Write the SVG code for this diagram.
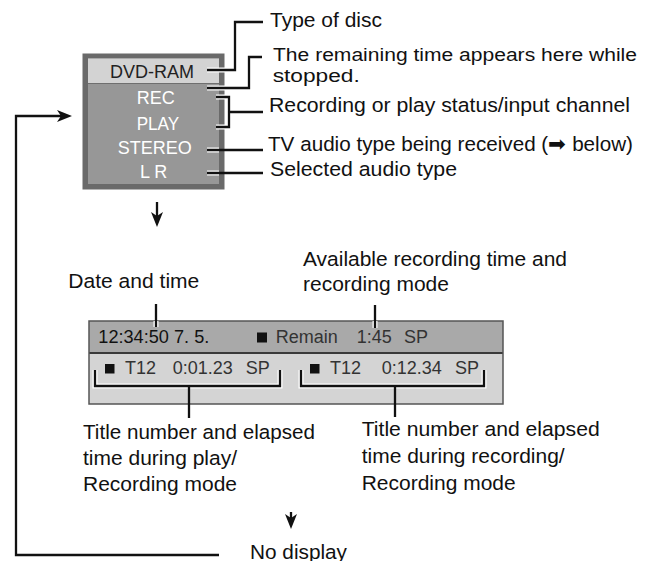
<svg xmlns="http://www.w3.org/2000/svg" width="662" height="561" viewBox="0 0 662 561">
<style>
text{font-family:"Liberation Sans",Arial,Helvetica,sans-serif}
.lbl{font-size:20.5px;fill:#111}
.sm{font-size:17.5px}
.disp{font-size:18px}
.wt{fill:#fff}
.dk{fill:#222}
.halo{fill:none;stroke:#fff;stroke-width:5}
.ln{fill:none;stroke:#111;stroke-width:2.3}
</style>
<defs>
<marker id="ah" viewBox="-6 -7 17 14" markerWidth="17" markerHeight="14" refX="0" refY="0" orient="auto" markerUnits="userSpaceOnUse">
<path d="M10,0 L-5,-6 L-1,0 L-5,6 Z" fill="#111"/>
</marker>
</defs>
<rect width="662" height="561" fill="#fff"/>

<g id="disc-panel">
<rect x="82.5" y="53.5" width="142" height="136" fill="#6a6a6a"/>
<rect x="88" y="58.5" width="131" height="125.5" fill="#979797"/>
<rect x="88" y="58.5" width="131" height="24.5" fill="#d3d3d3"/>
<line x1="88" y1="83.5" x2="219" y2="83.5" stroke="#6f6f6f" stroke-width="1.2"/>
<text class="disp dk" x="110" y="77.7" textLength="84" lengthAdjust="spacingAndGlyphs">DVD-RAM</text>
<text class="disp wt" x="136.7" y="104.3">REC</text>
<text class="disp wt" x="136.7" y="130" textLength="42.5" lengthAdjust="spacingAndGlyphs">PLAY</text>
<text class="disp wt" x="117.7" y="154.3">STEREO</text>
<text class="disp wt" x="140" y="177.7">L R</text>
</g>

<g id="status-bar">
<rect x="89" y="321" width="414" height="83" fill="#d4d4d4"/>
<rect x="89" y="321" width="414" height="32" fill="#a9a9a9"/>
<line x1="89" y1="353" x2="503" y2="353" stroke="#3a3a3a" stroke-width="2"/>
<rect x="89" y="321" width="414" height="83" fill="none" stroke="#555" stroke-width="1.5"/>
<text class="disp" x="98.3" y="343.3" fill="#111" textLength="111" lengthAdjust="spacingAndGlyphs">12:34:50 7. 5.</text>
<rect x="257" y="332.5" width="10" height="10" fill="#111"/>
<text class="disp" x="275.7" y="343.3" fill="#333">Remain</text>
<text class="disp" x="356.7" y="343.3" fill="#333">1:45</text>
<text class="disp" x="404" y="343.3" fill="#333">SP</text>
<rect x="105" y="364" width="9.5" height="9.5" fill="#111"/>
<text class="disp" x="125" y="374" fill="#333">T12</text>
<text class="disp" x="172.7" y="374" fill="#333">0:01.23</text>
<text class="disp" x="245.7" y="374" fill="#333">SP</text>
<rect x="310" y="364" width="9.5" height="9.5" fill="#111"/>
<text class="disp" x="330" y="374" fill="#333">T12</text>
<text class="disp" x="381.7" y="374" fill="#333">0:12.34</text>
<text class="disp" x="455" y="374" fill="#333">SP</text>
</g>

<g id="connectors">
<path class="halo" d="M207,70 H235 M207,88 H249 M216,97 H229 V127 H216 M207,150 H219 M207,173 H219 M156,321 V327 M375,321 V328 M95,370 V386 H280 V370 M301,370 V386 H484 V370"/>
<path class="ln" d="M207,70 H235 V22 H263"/>
<path class="ln" d="M207,88 H249 V57 H262"/>
<path class="ln" d="M216,97 H229 V127 H216 M229,112 H263"/>
<path class="ln" d="M207,150 H263"/>
<path class="ln" d="M207,173 H263"/>
<path class="ln" d="M156,304 V327"/>
<path class="ln" d="M375,305 V328"/>
<path class="ln" d="M95,370 V386 H280 V370 M189,386 V418"/>
<path class="ln" d="M301,370 V386 H484 V370 M395,386 V417"/>
<path class="ln" d="M219,555 H16 V116 H62" marker-end="url(#ah)"/>
<path class="ln" d="M157,202 V217" marker-end="url(#ah)"/>
<path class="ln" d="M291,512 V519" marker-end="url(#ah)"/>
</g>

<g id="label-disc-type"><text class="lbl" x="270" y="26.7" textLength="112" lengthAdjust="spacingAndGlyphs">Type of disc</text></g>
<g id="label-remaining">
<text class="lbl sm" x="273" y="61" textLength="364" lengthAdjust="spacingAndGlyphs">The remaining time appears here while</text>
<text class="lbl sm" x="272.7" y="81.5" textLength="87" lengthAdjust="spacingAndGlyphs">stopped.</text>
</g>
<g id="label-status"><text class="lbl" x="269" y="111.7" textLength="361" lengthAdjust="spacingAndGlyphs">Recording or play status/input channel</text></g>
<g id="label-tv-audio"><text class="lbl" x="268" y="150.5" textLength="365" lengthAdjust="spacingAndGlyphs">TV audio type being received (➡ below)</text></g>
<g id="label-selected-audio"><text class="lbl" x="270" y="175.5" textLength="187" lengthAdjust="spacingAndGlyphs">Selected audio type</text></g>
<g id="label-date"><text class="lbl" x="68.3" y="288.3" textLength="131" lengthAdjust="spacingAndGlyphs">Date and time</text></g>
<g id="label-available">
<text class="lbl" x="303" y="266" textLength="264" lengthAdjust="spacingAndGlyphs">Available recording time and</text>
<text class="lbl" x="303" y="290.7" textLength="146" lengthAdjust="spacingAndGlyphs">recording mode</text>
</g>
<g id="label-play">
<text class="lbl" x="83" y="439" textLength="232" lengthAdjust="spacingAndGlyphs">Title number and elapsed</text>
<text class="lbl" x="83" y="464.5" textLength="154" lengthAdjust="spacingAndGlyphs">time during play/</text>
<text class="lbl" x="83" y="491" textLength="154" lengthAdjust="spacingAndGlyphs">Recording mode</text>
</g>
<g id="label-recording">
<text class="lbl" x="361.7" y="436" textLength="238" lengthAdjust="spacingAndGlyphs">Title number and elapsed</text>
<text class="lbl" x="361.7" y="463" textLength="203" lengthAdjust="spacingAndGlyphs">time during recording/</text>
<text class="lbl" x="361.7" y="490" textLength="154" lengthAdjust="spacingAndGlyphs">Recording mode</text>
</g>
<g id="no-display"><text class="lbl" x="250" y="558.5" textLength="97" lengthAdjust="spacingAndGlyphs">No display</text></g>
</svg>
